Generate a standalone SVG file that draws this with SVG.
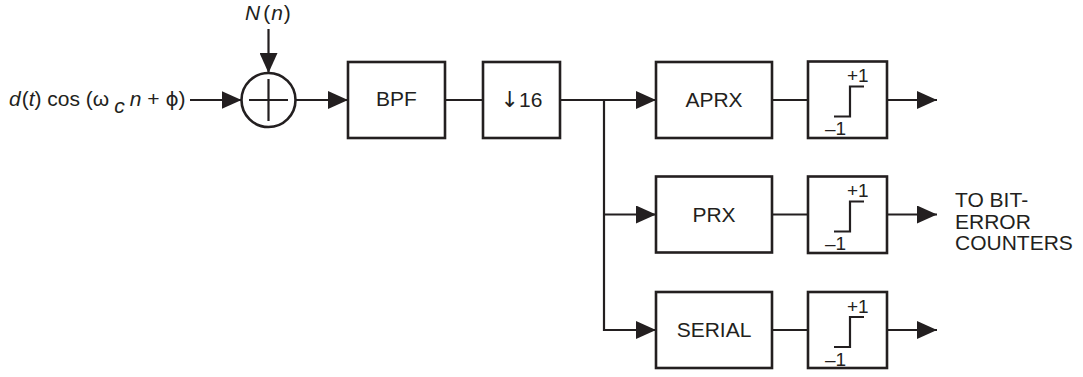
<svg xmlns="http://www.w3.org/2000/svg" width="1083" height="377" viewBox="0 0 1083 377">
<defs>
<style>
.box{fill:#fff;stroke:#231f20;stroke-width:2.6}
.ln{fill:none;stroke:#231f20;stroke-width:2.2}
.t{font-family:"Liberation Sans",Arial,sans-serif;font-size:21px;fill:#231f20}
.c{text-anchor:middle}
.s{font-family:"Liberation Sans",Arial,sans-serif;font-size:19px;fill:#231f20}
.i{font-style:italic}
.g{font-family:"DejaVu Sans",sans-serif}
</style>
<marker id="ah" markerWidth="20" markerHeight="18" refX="20" refY="9" orient="auto" markerUnits="userSpaceOnUse">
<path d="M0,0 L20,9 L0,18 Z" fill="#231f20"/>
</marker>
</defs>
<rect width="1083" height="377" fill="#fff"/>

<g id="input-label">
<text class="t" x="9" y="106" font-size="22"><tspan class="i">d</tspan><tspan dx="1">(</tspan><tspan class="i">t</tspan>) cos (ω<tspan class="i" dx="5" dy="7">c</tspan><tspan class="i" dx="5" dy="-7">n</tspan> + <tspan class="g" font-size="20">ϕ</tspan>)</text>
</g>

<g id="noise-label">
<text class="t" x="245" y="20"><tspan class="i">N</tspan><tspan dx="3">(</tspan><tspan class="i" dx="1">n</tspan><tspan dx="1">)</tspan></text>
</g>

<g id="summer">
<circle cx="268.5" cy="100" r="27" fill="#fff" stroke="#231f20" stroke-width="2.6"/>
<path class="ln" d="M249,100 H288 M268.5,79 V121"/>
</g>

<g id="bpf">
<rect class="box" x="348" y="62" width="97" height="76"/>
<text class="t c" x="396.5" y="106">BPF</text>
</g>

<g id="decim">
<rect class="box" x="483" y="62" width="77" height="76"/>
<text class="t c" x="521.5" y="107"><tspan class="g" font-size="22">↓</tspan>16</text>
</g>

<g id="aprx">
<rect class="box" x="656" y="62" width="116" height="76"/>
<text class="t c" x="714" y="107">APRX</text>
</g>
<g id="prx">
<rect class="box" x="656" y="176.5" width="116" height="76"/>
<text class="t c" x="714" y="222">PRX</text>
</g>
<g id="serial">
<rect class="box" x="656" y="292" width="116" height="76"/>
<text class="t c" x="714" y="337">SERIAL</text>
</g>

<g id="lim1">
<rect class="box" x="808" y="61.5" width="79" height="76.5"/>
<path class="ln" d="M834,116.5 H850 V86.5 H864"/>
<text class="s" x="847" y="82">+1</text>
<text class="s" x="825" y="135">–1</text>
</g>
<g id="lim2">
<rect class="box" x="808" y="176.5" width="79" height="76.5"/>
<path class="ln" d="M834,231.5 H850 V201.5 H864"/>
<text class="s" x="847" y="197">+1</text>
<text class="s" x="825" y="250">–1</text>
</g>
<g id="lim3">
<rect class="box" x="808" y="292" width="79" height="76"/>
<path class="ln" d="M834,347 H850 V317 H864"/>
<text class="s" x="847" y="312.5">+1</text>
<text class="s" x="825" y="365.5">–1</text>
</g>

<g id="out-label">
<text class="t" x="955" y="207" font-size="20.5">TO BIT-</text>
<text class="t" x="955" y="229" font-size="20.5">ERROR</text>
<text class="t" x="955" y="250" font-size="20.5">COUNTERS</text>
</g>

<g id="connectors">
<path class="ln" d="M268.5,29 V73" marker-end="url(#ah)"/>
<path class="ln" d="M190,100 H241.5" marker-end="url(#ah)"/>
<path class="ln" d="M295.5,100 H348" marker-end="url(#ah)"/>
<path class="ln" d="M445,100 H483"/>
<path class="ln" d="M560,100 H656" marker-end="url(#ah)"/>
<path class="ln" d="M604,100 V330 H656" marker-end="url(#ah)"/>
<path class="ln" d="M604,214.5 H656" marker-end="url(#ah)"/>
<path class="ln" d="M772,100 H808"/>
<path class="ln" d="M772,214.5 H808"/>
<path class="ln" d="M772,330 H808"/>
<path class="ln" d="M887,100 H937" marker-end="url(#ah)"/>
<path class="ln" d="M887,214.5 H937" marker-end="url(#ah)"/>
<path class="ln" d="M887,330 H937" marker-end="url(#ah)"/>
</g>
</svg>
